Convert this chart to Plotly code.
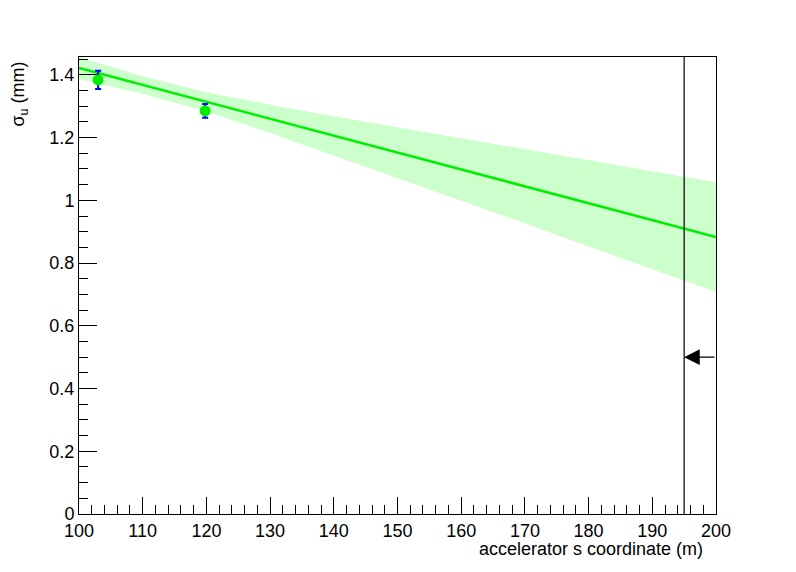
import plotly.graph_objects as go

# Data points (s coordinate in m, sigma_u in mm)
pts_s = [103.0, 119.8]
pts_sigma = [1.384, 1.285]
pts_err = [0.029, 0.022]

# Fit line
fit_s = [100, 200]
fit_sigma = [1.422, 0.883]

# Confidence band
band_s = [100, 110, 120, 130, 140, 150, 160, 170, 180, 190, 200]
band_upper = [1.457, 1.396, 1.345, 1.305, 1.268, 1.233, 1.197, 1.163, 1.129, 1.094, 1.058]
band_lower = [1.387, 1.340, 1.283, 1.215, 1.144, 1.071, 0.999, 0.927, 0.853, 0.780, 0.708]

# Marker line and arrow
cut_s = 195
arrow_sigma = 0.5

fig = go.Figure()
fig.add_trace(go.Scatter(x=band_s + band_s[::-1], y=band_upper + band_lower[::-1],
                         fill="toself", fillcolor="#ccffcc", line=dict(width=0),
                         mode="lines", hoverinfo="skip", showlegend=False))
fig.add_trace(go.Scatter(x=fit_s, y=fit_sigma, mode="lines",
                         line=dict(color="#00ee00", width=2.5), showlegend=False))
fig.add_trace(go.Scatter(x=pts_s, y=pts_sigma, mode="markers",
                         marker=dict(color="#00ee00", size=11),
                         error_y=dict(type="data", array=pts_err, color="#0000ff",
                                      thickness=2, width=3),
                         showlegend=False))

fig.add_shape(type="line", x0=cut_s, x1=cut_s, y0=0, y1=1, yref="paper",
              line=dict(color="black", width=1.2))
fig.add_annotation(x=cut_s, y=arrow_sigma, ax=200, ay=arrow_sigma,
                   xref="x", yref="y", axref="x", ayref="y",
                   showarrow=True, arrowhead=2, arrowsize=2.6, arrowwidth=1.2,
                   arrowcolor="black", text="")

font = dict(family="Liberation Sans, Arial, sans-serif", size=18, color="black")

fig.update_layout(
    width=796, height=572,
    margin=dict(l=71, r=88, t=49, b=66),
    plot_bgcolor="white", paper_bgcolor="white",
    font=font,
    xaxis=dict(range=[100, 200], dtick=10, tick0=100, ticks="inside", ticklen=17,
               tickwidth=1, tickcolor="black", showline=True, linecolor="black",
               linewidth=1, mirror=True, showgrid=False, zeroline=False,
               minor=dict(dtick=2, ticks="inside", ticklen=9, tickcolor="black", showgrid=False),
               tickfont=font),
    yaxis=dict(range=[0, 1.457], dtick=0.2, tick0=0, ticks="inside", ticklen=18,
               tickwidth=1, tickcolor="black", showline=True, linecolor="black",
               linewidth=1, mirror=True, showgrid=False, zeroline=False,
               tickformat="~g",
               minor=dict(dtick=0.05, ticks="inside", ticklen=9, tickcolor="black", showgrid=False),
               tickfont=font),
)

fig.add_annotation(text="accelerator s coordinate (m)", x=0.983, y=-0.05,
                   xref="paper", yref="paper", xanchor="right", yanchor="top",
                   showarrow=False, font=font)
fig.add_annotation(text="σ<sub>u</sub> (mm)", x=-0.093, y=0.995,
                   xref="paper", yref="paper", xanchor="center", yanchor="top",
                   textangle=-90, showarrow=False, font=font)

fig.write_html("out.html")
